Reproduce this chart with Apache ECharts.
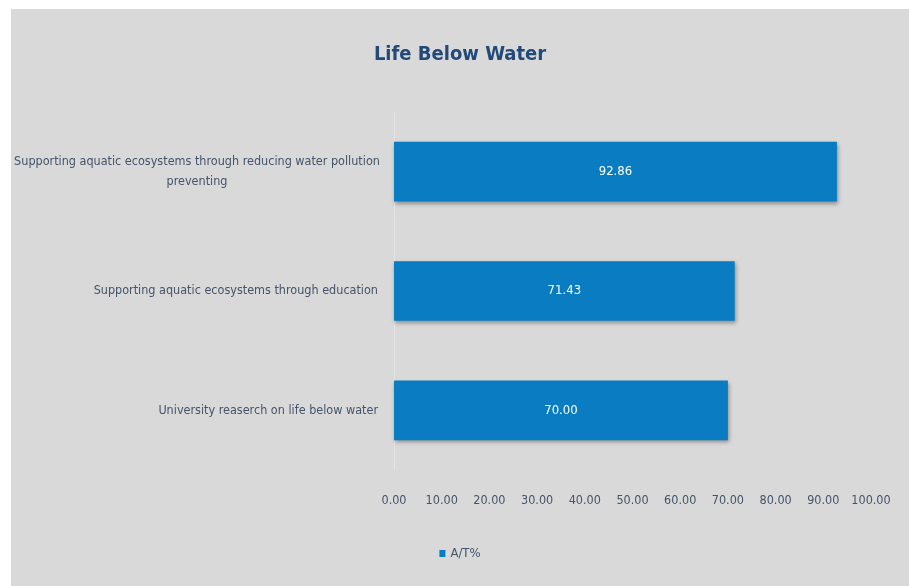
<!DOCTYPE html>
<html>
<head>
<meta charset="utf-8">
<script src="https://cdn.jsdelivr.net/npm/echarts@6/dist/echarts.min.js"></script>
<style>
html,body{margin:0;padding:0;background:#ffffff;width:909px;height:586px;overflow:hidden;}
#chart{position:absolute;left:11px;top:9px;width:898px;height:577px;}
</style>
</head>
<body>
<div id="chart"></div>
<script>
var titleText = 'Life Below Water';
var seriesName = 'A/T%';
var categories = [
  'Supporting aquatic ecosystems through reducing water pollution\npreventing',
  'Supporting aquatic ecosystems through education',
  'University reaserch on life below water'
];
var values = [92.86, 71.43, 70.00];
var xMin = 0, xMax = 100, xInterval = 10;

var FONT = "'Liberation Sans Narrow', 'DejaVu Sans Condensed', sans-serif";
var TXT = '#44546a';
var chart = echarts.init(document.getElementById('chart'));
chart.setOption({
  backgroundColor: '#d9d9d9',
  animation: false,
  title: {
    text: titleText,
    left: 'center',
    top: 31,
    textStyle: {fontFamily: FONT, fontSize: 20, fontWeight: 'bold', color: '#23497a'}
  },
  legend: {
    data: [seriesName],
    left: 'center',
    bottom: 21,
    itemWidth: 6,
    itemHeight: 7,
    itemGap: 3,
    icon: 'rect',
    textStyle: {fontFamily: FONT, fontSize: 13, color: TXT}
  },
  grid: {left: 383, right: 38, top: 103, bottom: 116, containLabel: false, outerBoundsMode: 'none'},
  xAxis: {
    type: 'value',
    min: xMin, max: xMax, interval: xInterval,
    axisLine: {show: false},
    axisTick: {show: false},
    splitLine: {show: false},
    axisLabel: {
      margin: 24,
      fontFamily: FONT, fontSize: 12.5, color: TXT,
      formatter: function (v) { return v.toFixed(2); }
    }
  },
  yAxis: {
    type: 'category',
    inverse: true,
    data: categories,
    axisLine: {show: true, lineStyle: {color: '#e4e4e4', width: 1}},
    axisTick: {show: false},
    axisLabel: {
      margin: 16,
      fontFamily: FONT, fontSize: 12.5, color: TXT, lineHeight: 20,
      formatter: function (v) {
        var lines = v.split('\n');
        if (lines.length === 1) return v;
        return lines.map(function (l) { return '{c|' + l + '}'; }).join('\n');
      },
      rich: {
        c: {width: 362, align: 'center', fontFamily: FONT, fontSize: 12.5, color: TXT, lineHeight: 20}
      }
    }
  },
  series: [{
    name: seriesName,
    type: 'bar',
    data: values,
    barWidth: '50%',
    itemStyle: {
      color: '#0a7cc2',
      shadowColor: 'rgba(0,0,0,0.35)',
      shadowBlur: 4,
      shadowOffsetX: 1,
      shadowOffsetY: 2
    },
    label: {
      show: true,
      position: 'inside',
      fontFamily: FONT, fontSize: 13, color: '#ffffff',
      formatter: function (p) { return p.value.toFixed(2); }
    }
  }]
});
</script>
</body>
</html>
